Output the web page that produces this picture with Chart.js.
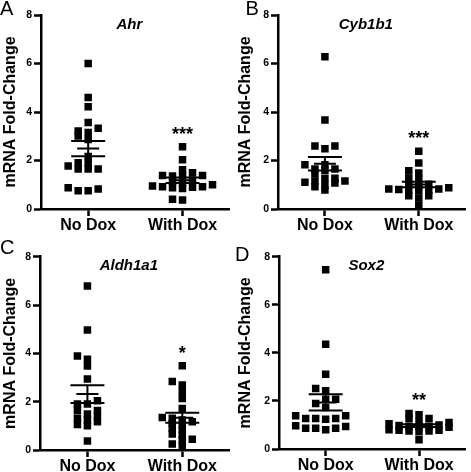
<!DOCTYPE html>
<html><head><meta charset="utf-8">
<script src="https://cdn.jsdelivr.net/npm/chart.js@4.4.0/dist/chart.umd.min.js"></script>
<style>
html,body{margin:0;padding:0;background:#fff;width:471px;height:472px;overflow:hidden;}
.p{position:absolute;}
canvas{display:block;}
</style></head><body>
<div class="p" style="left:0;top:0;"><canvas id="c0" width="235" height="236"></canvas></div>
<div class="p" style="left:235px;top:0;"><canvas id="c1" width="236" height="236"></canvas></div>
<div class="p" style="left:0;top:236px;"><canvas id="c2" width="235" height="236"></canvas></div>
<div class="p" style="left:235px;top:236px;"><canvas id="c3" width="236" height="236"></canvas></div>
<script>
// ---- data ----
const categories = ['No Dox', 'With Dox'];
const genes = ['Ahr', 'Cyb1b1', 'Aldh1a1', 'Sox2'];
const panelLetters = ['A', 'B', 'C', 'D'];
const significance = ['***', '***', '*', '**'];
const yTicks = [0, 2, 4, 6, 8];
const yLabel = 'mRNA Fold-Change';

const ahrNoDox = [6.0, 4.6, 4.22, 3.57, 3.33, 3.22, 3.15, 3.01, 2.87, 2.16, 1.91, 1.91, 1.77, 1.65, 1.65, 1.65, 0.88, 0.82, 0.75, 0.75];
const ahrWithDox = [2.57, 2.03, 1.62, 1.50, 1.38, 1.38, 1.36, 1.36, 1.20, 1.13, 1.05, 1.00, 0.95, 0.92, 0.92, 0.90, 0.88, 0.85, 0.40, 0.37];
const cybNoDox = [6.28, 3.67, 2.60, 2.60, 2.48, 1.82, 1.82, 1.65, 1.65, 1.60, 1.45, 1.27, 1.27, 1.15, 1.15, 1.10, 1.07, 0.98, 0.92, 0.78];
const cybWithDox = [2.38, 1.90, 1.58, 1.48, 1.28, 1.25, 1.02, 1.02, 0.95, 0.88, 0.82, 0.82, 0.80, 0.78, 0.78, 0.75, 0.55, 0.55, 0.45, 0.15];
const aldhNoDox = [6.79, 4.97, 3.89, 3.76, 3.48, 2.94, 2.04, 1.90, 1.90, 1.63, 1.63, 1.49, 1.41, 1.31, 1.24, 1.17, 1.06, 1.00, 0.37];
const aldhWithDox = [3.49, 2.83, 2.69, 2.41, 2.13, 1.72, 1.35, 1.31, 1.24, 1.17, 1.10, 1.03, 0.90, 0.83, 0.66, 0.62, 0.44, 0.41, 0.25, 0.17];
const sox2NoDox = [7.46, 4.36, 3.11, 2.52, 2.42, 2.07, 2.07, 1.89, 1.73, 1.38, 1.38, 1.27, 1.27, 1.27, 1.24, 0.97, 0.94, 0.86, 0.86, 0.86, 0.80];
const sox2WithDox = [1.48, 1.42, 1.27, 1.27, 1.13, 1.10, 1.05, 1.00, 0.98, 0.95, 0.95, 0.92, 0.90, 0.80, 0.78, 0.78, 0.75, 0.75, 0.72, 0.38];

const panelData = [
  [ahrNoDox, ahrWithDox],
  [cybNoDox, cybWithDox],
  [aldhNoDox, aldhWithDox],
  [sox2NoDox, sox2WithDox]
];

// ---- layout (not data) ----
const layouts = [
  {axisX: 41, top: 15, xh: 27, right: 5, lx: 0, ly: 15},
  {axisX: 43, top: 15, xh: 27, right: 1, lx: 10.5, ly: 15},
  {axisX: 40, top: 20.7, xh: 22, right: 5, lx: 0, ly: 18},
  {axisX: 44, top: 20.7, xh: 23, right: 0, lx: 0, ly: 25}
];
const FONT = '"Liberation Sans", Arial, Helvetica, sans-serif';

const textPlugin = {
  id: 'panelText',
  afterDraw(chart) {
    const o = chart.options.plugins.panelText;
    const {ctx, chartArea, scales} = chart;
    ctx.save();
    ctx.fillStyle = '#000';
    ctx.textAlign = 'left';
    ctx.textBaseline = 'alphabetic';
    ctx.font = '20px ' + FONT;
    ctx.fillText(o.letter, o.lx, o.ly);
    ctx.textAlign = 'center';
    ctx.textBaseline = 'middle';
    ctx.font = 'italic bold 15px ' + FONT;
    ctx.fillText(o.gene, (chartArea.left + chartArea.right) / 2 - 6, chartArea.top + 9.5);
    const maxV = Math.max(...o.withValues);
    const sx = scales.x.getPixelForValue(2);
    const sy = scales.y.getPixelForValue(maxV) - 17;
    ctx.textBaseline = 'alphabetic';
    ctx.font = 'bold 18px ' + FONT;
    ctx.fillText(o.sig, sx, sy + 10);
    ctx.restore();
  }
};

function meanSem(v) {
  const n = v.length;
  const m = v.reduce((a, b) => a + b, 0) / n;
  const sd = Math.sqrt(v.reduce((a, b) => a + (b - m) * (b - m), 0) / (n - 1));
  return {m, sem: sd / Math.sqrt(n)};
}

function swarm(chart, group, values) {
  const xs = chart.scales.x, ys = chart.scales.y;
  const cx = xs.getPixelForValue(group);
  const placed = [];
  const res = new Array(values.length);
  const order = values.map((v, i) => i).sort((a, b) => values[a] - values[b]);
  const STEP = 5, DX = 9.5, DY = 4.6;
  for (const i of order) {
    const py = ys.getPixelForValue(values[i]);
    let off = 0;
    for (let k = 0; k < 200; k++) {
      off = k === 0 ? 0 : (k % 2 ? -1 : 1) * Math.ceil(k / 2) * STEP;
      const px = cx + off;
      if (!placed.some(p => Math.abs(p.x - px) < DX && Math.abs(p.y - py) < DY)) break;
    }
    placed.push({x: cx + off, y: py});
    res[i] = {x: xs.getValueForPixel(cx + off), y: values[i]};
  }
  return res;
}

function errBars(chart, group, values) {
  const xs = chart.scales.x;
  const cx = xs.getPixelForValue(group);
  const {m, sem} = meanSem(values);
  const cap = 17, mw = 11;
  const X = px => xs.getValueForPixel(cx + px);
  return [
    {x: X(-cap), y: m + sem}, {x: X(cap), y: m + sem}, {x: group, y: null},
    {x: X(-mw), y: m}, {x: X(mw), y: m}, {x: group, y: null},
    {x: group, y: m + sem}, {x: group, y: m - sem}, {x: group, y: null},
    {x: X(-cap), y: m - sem}, {x: X(cap), y: m - sem}
  ];
}

panelData.forEach((groups, pi) => {
  const L = layouts[pi];
  const pointDs = groups.map((vals, gi) => ({
    data: vals.map(v => ({x: gi + 1, y: v})),
    pointStyle: 'rect',
    pointRadius: 5.3,
    pointBorderWidth: 0,
    backgroundColor: '#000',
    borderColor: '#000',
    order: 1
  }));
  const barDs = groups.map(() => ({
    data: [],
    showLine: true,
    spanGaps: false,
    pointRadius: 0,
    borderColor: '#000',
    borderWidth: 2,
    order: 0
  }));
  const chart = new Chart(document.getElementById('c' + pi), {
    type: 'scatter',
    data: {datasets: pointDs.concat(barDs)},
    options: {
      responsive: false,
      animation: false,
      events: [],
      layout: {padding: {left: 0, top: L.top, right: L.right, bottom: 0}},
      plugins: {
        legend: {display: false},
        tooltip: {enabled: false},
        panelText: {letter: panelLetters[pi], gene: genes[pi], sig: significance[pi], withValues: groups[1], lx: L.lx, ly: L.ly}
      },
      scales: {
        x: {
          type: 'linear', min: 0.5, max: 2.5,
          afterBuildTicks: s => { s.ticks = [{value: 1}, {value: 2}]; },
          afterFit: s => { s.height = L.xh; },
          ticks: {
            callback: v => categories[Math.round(v) - 1],
            color: '#000', padding: 0, maxRotation: 0, autoSkip: false,
            font: {family: FONT, size: 16, weight: 'bold'}
          },
          grid: {drawOnChartArea: false, drawTicks: true, tickLength: 7, tickWidth: 2.5, tickColor: '#000'},
          border: {display: true, color: '#000', width: 2.5}
        },
        y: {
          type: 'linear', min: 0, max: 8,
          afterBuildTicks: s => { s.ticks = yTicks.map(v => ({value: v})); },
          afterFit: s => { s.width = L.axisX; },
          ticks: {color: '#000', padding: 2, font: {family: FONT, size: 10.5, weight: 'bold'}},
          grid: {drawOnChartArea: false, drawTicks: true, tickLength: 7, tickWidth: 2.5, tickColor: '#000'},
          border: {display: true, color: '#000', width: 2.5},
          title: {display: true, text: yLabel, color: '#000', padding: {top: 3, bottom: 0},
                  font: {family: FONT, size: 16, weight: 'bold', lineHeight: 1}}
        }
      }
    },
    plugins: [textPlugin]
  });
  groups.forEach((vals, gi) => {
    chart.data.datasets[gi].data = swarm(chart, gi + 1, vals);
    chart.data.datasets[2 + gi].data = errBars(chart, gi + 1, vals);
  });
  chart.update('none');
});
</script>
</body></html>
